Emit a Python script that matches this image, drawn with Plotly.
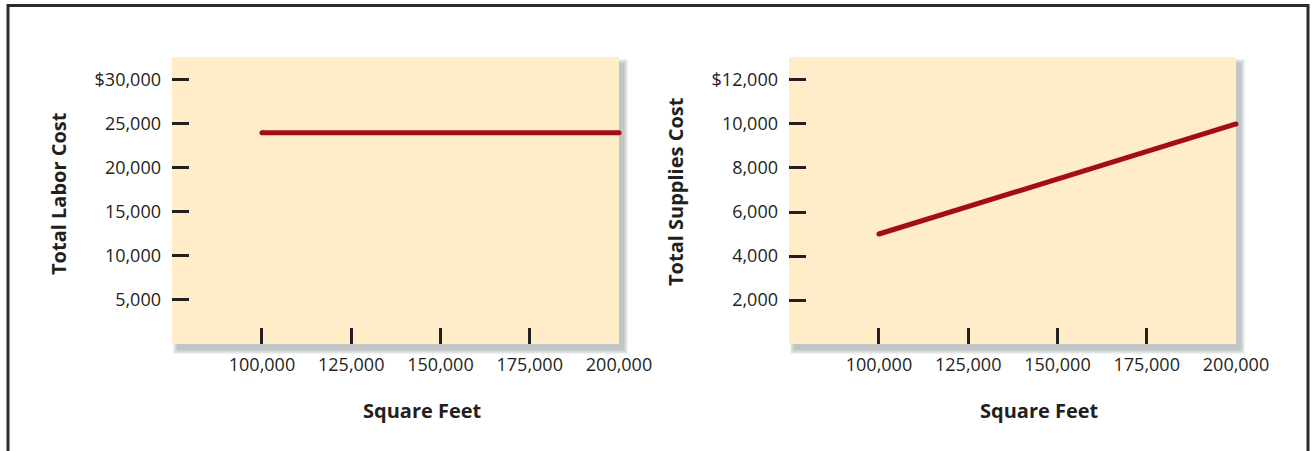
import plotly.graph_objects as go

# ---- data -------------------------------------------------------------
square_feet = [100000, 200000]
labor_cost = [24000, 24000]
supplies_cost = [5000, 10000]

x_tick_vals = [100000, 125000, 150000, 175000, 200000]
x_tick_text = ["100,000", "125,000", "150,000", "175,000", "200,000"]

labor_tick_vals = [5000, 10000, 15000, 20000, 25000, 30000]
labor_tick_text = ["5,000", "10,000", "15,000", "20,000", "25,000", "$30,000"]

supplies_tick_vals = [2000, 4000, 6000, 8000, 10000, 12000]
supplies_tick_text = ["2,000", "4,000", "6,000", "8,000", "10,000", "$12,000"]

labor_title = "Total Labor Cost"
supplies_title = "Total Supplies Cost"
x_title = "Square Feet"

# ---- styling ----------------------------------------------------------
W, H = 1313, 451
PANEL_BG = "#FFECC9"
LINE_RED = "#A30D13"
INK = "#231F20"
FONT = "Open Sans"

# plot areas (paper fractions)
dom_x1 = [172 / W, 619 / W]
dom_x2 = [789 / W, 1236 / W]
dom_y = [1 - 344 / H, 1 - 57 / H]

fig = go.Figure()

line_style = dict(color=LINE_RED, width=5)
marker_style = dict(color=LINE_RED, size=5)

fig.add_trace(go.Scatter(x=square_feet, y=labor_cost, mode="lines+markers",
                         line=line_style, marker=marker_style,
                         xaxis="x", yaxis="y", showlegend=False, cliponaxis=False))
fig.add_trace(go.Scatter(x=square_feet, y=supplies_cost, mode="lines+markers",
                         line=line_style, marker=marker_style,
                         xaxis="x2", yaxis="y2", showlegend=False, cliponaxis=False))

tick_font = dict(family=FONT, size=18, color=INK)
title_font = dict(family=FONT, size=20, color=INK)

common_x = dict(tickvals=x_tick_vals, ticktext=x_tick_text, ticks="inside",
                ticklen=16, tickwidth=3, tickcolor=INK, showgrid=False,
                zeroline=False, showline=False, tickfont=tick_font, automargin=False,
                range=[74800, 200000], ticklabelstandoff=8, fixedrange=True)
common_y = dict(ticks="inside", ticklen=17, tickwidth=3, tickcolor=INK,
                showgrid=False, zeroline=False, showline=False, automargin=False,
                tickfont=tick_font, ticklabelstandoff=10, fixedrange=True)

fig.update_layout(
    width=W, height=H, autosize=False,
    margin=dict(l=0, r=0, t=0, b=0, pad=0, autoexpand=False),
    paper_bgcolor="white",
    plot_bgcolor="rgba(0,0,0,0)",
    showlegend=False,
    xaxis=dict(domain=dom_x1, anchor="y", **common_x),
    xaxis2=dict(domain=dom_x2, anchor="y2", **common_x),
    yaxis=dict(domain=dom_y, anchor="x", range=[0, 32600],
               tickvals=labor_tick_vals, ticktext=labor_tick_text, **common_y),
    yaxis2=dict(domain=dom_y, anchor="x2", range=[0, 13045],
                tickvals=supplies_tick_vals, ticktext=supplies_tick_text, **common_y),
)

shapes = []
# soft drop shadow + cream panel behind each plot area
for dx in (dom_x1, dom_x2):
    ox, oy = 5 / W, 6 / H
    for i in range(6):
        gx, gy = i * 0.8 / W, i * 0.8 / H
        shapes.append(dict(type="rect", xref="paper", yref="paper", layer="below",
                           x0=dx[0] + ox - gx, x1=dx[1] + ox + gx,
                           y0=dom_y[0] - oy - gy, y1=dom_y[1] - oy + gy,
                           fillcolor="#5A6068", opacity=0.07, line=dict(width=0)))
    shapes.append(dict(type="rect", xref="paper", yref="paper", layer="below",
                       x0=dx[0], x1=dx[1], y0=dom_y[0], y1=dom_y[1],
                       fillcolor=PANEL_BG, line=dict(width=0)))

# outer frame: left, top and right sides, running off the bottom of the page
fx0, fx1, fy = 8 / W, 1308 / W, 1 - 5.5 / H
shapes.append(dict(type="path", xref="paper", yref="paper", layer="above",
                   path=f"M {fx0},0 L {fx0},{fy} L {fx1},{fy} L {fx1},0",
                   line=dict(color="#2B2B2B", width=3)))
fig.update_layout(shapes=shapes)

annotations = [
    dict(text="<b>%s</b>" % labor_title, x=58 / W, y=1 - 194 / H, textangle=-90),
    dict(text="<b>%s</b>" % supplies_title, x=675 / W, y=1 - 192 / H, textangle=-90),
    dict(text="<b>%s</b>" % x_title, x=422 / W, y=1 - 410 / H),
    dict(text="<b>%s</b>" % x_title, x=1039 / W, y=1 - 410 / H),
]
for a in annotations:
    a.update(xref="paper", yref="paper", xanchor="center", yanchor="middle",
             showarrow=False, font=title_font)
fig.update_layout(annotations=annotations)

# page without the default body margin, so the figure fills the window exactly
page_fix = """
document.body.style.margin = '0';
document.body.style.overflow = 'hidden';
document.documentElement.style.overflow = 'hidden';
"""
fig.write_html("out.html", post_script=page_fix,
               config={"displayModeBar": False, "responsive": False})
